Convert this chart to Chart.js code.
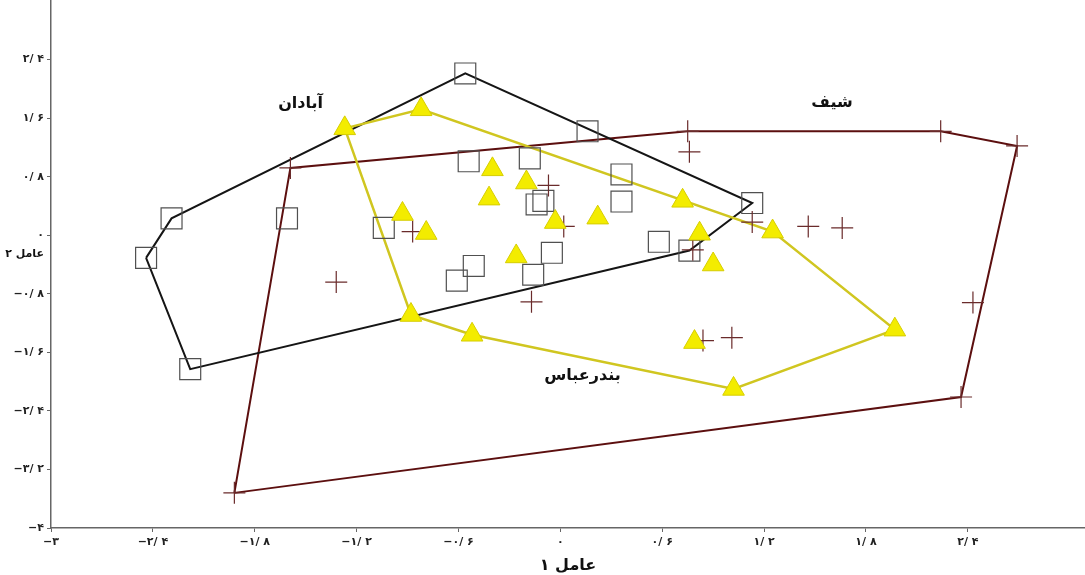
<!DOCTYPE html>
<html>
<head>
<meta charset="utf-8">
<script src="https://cdn.jsdelivr.net/npm/chart.js@4.4.0/dist/chart.umd.min.js"></script>
<style>
  html, body { margin: 0; padding: 0; background: #ffffff; }
  #wrap { width: 1085px; height: 575px; }
</style>
</head>
<body>
<div id="wrap"><canvas id="c" width="1085" height="575"></canvas></div>
<script>
// ---- data ----
// Abadan (open squares)
const abadanX = [-0.56, 0.16, -2.29, -2.44, -2.18, -1.61, -1.04, -0.54, -0.18, 0.36, 0.36, -0.10, -0.14, 1.13, 0.58, 0.76, -0.05, -0.51, -0.61, -0.16];
const abadanY = [ 2.21, 1.42,  0.23, -0.31, -1.83,  0.23,  0.10,  1.01,  1.05, 0.83, 0.46,  0.47,  0.42, 0.44, -0.09, -0.21, -0.24, -0.42, -0.62, -0.54];
// Bandar Abbas (yellow triangles)
const bandarX = [-1.27, -0.82, -0.40, -0.20, -0.42, -0.93, -0.79, -0.03, 0.22, 0.72, 0.82, 0.90, 1.25, -0.26, -0.88, -0.52, 0.79, 1.02, 1.97];
const bandarY = [ 1.46,  1.72,  0.90,  0.72,  0.50,  0.29,  0.03,  0.18, 0.24, 0.47, 0.02, -0.40, 0.05, -0.29, -1.09, -1.36, -1.46, -2.10, -1.29];
// Shif (plus signs)
const shifX = [-1.59, 0.75, 0.76, 2.24, 2.69, -0.07, 0.02, -0.87, 1.13, 1.46, 1.66, 0.78, -1.32, -0.17, 2.43, 0.84, 1.01, 2.36, -1.92];
const shifY = [ 0.92, 1.42, 1.14, 1.42, 1.22,  0.68, 0.12,  0.05, 0.18, 0.12, 0.10, -0.20, -0.64, -0.91, -0.92, -1.44, -1.40, -2.21, -3.52];
// group labels
const groupNames = ['آبادان', 'شیف', 'بندرعباس'];
const groupLabelX = [-1.53, 1.60, 0.13];
const groupLabelY = [1.80, 1.81, -1.92];
// axis ticks
const xTicks = [-3, -2.4, -1.8, -1.2, -0.6, 0, 0.6, 1.2, 1.8, 2.4];
const yTicks = [-4, -3.2, -2.4, -1.6, -0.8, 0, 0.8, 1.6, 2.4];
const xTitle = 'عامل ۱';
const yTitle = 'عامل ۲';

// ---- helpers ----
const faDigits = '۰۱۲۳۴۵۶۷۸۹';
function fa(v) {
  const r = Math.round(v * 10) / 10;
  const neg = r < 0;
  const a = Math.abs(r);
  const i = Math.floor(a + 1e-9);
  const d = Math.round((a - i) * 10);
  let s = String(i).replace(/\d/g, c => faDigits[+c]);
  if (d) s += '/ ' + faDigits[d];
  return (neg ? '−' : '') + s;
}
function toPts(xs, ys) { return xs.map((x, i) => ({ x: x, y: ys[i] })); }
function hull(pts) {
  const p = pts.slice().sort((a, b) => a.x - b.x || a.y - b.y);
  const cross = (o, a, b) => (a.x - o.x) * (b.y - o.y) - (a.y - o.y) * (b.x - o.x);
  const lower = [];
  for (const q of p) {
    while (lower.length >= 2 && cross(lower[lower.length - 2], lower[lower.length - 1], q) <= 0) lower.pop();
    lower.push(q);
  }
  const upper = [];
  for (const q of p.slice().reverse()) {
    while (upper.length >= 2 && cross(upper[upper.length - 2], upper[upper.length - 1], q) <= 0) upper.pop();
    upper.push(q);
  }
  upper.pop(); lower.pop();
  const h = lower.concat(upper);
  h.push(h[0]);
  return h.map(q => ({ x: q.x, y: q.y }));
}

const abadan = toPts(abadanX, abadanY);
const bandar = toPts(bandarX, bandarY);
const shif = toPts(shifX, shifY);

const labelPlugin = {
  id: 'groupLabels',
  afterDatasetsDraw(chart) {
    const { ctx } = chart;
    const xs = chart.scales.x, ys = chart.scales.y;
    ctx.save();
    ctx.fillStyle = '#111';
    ctx.textAlign = 'center';
    ctx.textBaseline = 'middle';
    ctx.font = 'bold 16px "DejaVu Sans"';
    groupNames.forEach((n, i) => {
      ctx.fillText(n, xs.getPixelForValue(groupLabelX[i]), ys.getPixelForValue(groupLabelY[i]));
    });
    ctx.font = 'bold 11px "DejaVu Sans"';
    ctx.textAlign = 'right';
    ctx.fillText(yTitle, xs.left - 7, ys.getPixelForValue(0) + 19);
    ctx.restore();
  }
};

const tickFont = { family: 'DejaVu Sans', weight: 'bold', size: 11 };
const zeroPad = s => { s.paddingTop = 0; s.paddingBottom = 0; s.paddingLeft = 0; s.paddingRight = 0; };

new Chart(document.getElementById('c'), {
  type: 'scatter',
  data: {
    datasets: [
      { label: 'بندرعباس', data: bandar, pointStyle: 'triangle', pointRadius: 12.5, pointHoverRadius: 12.5,
        pointBackgroundColor: '#f3ec00', pointBorderColor: '#d6cd00', pointBorderWidth: 1, order: 1 },
      { label: 'شیف', data: shif, pointStyle: 'cross', pointRadius: 11, pointHoverRadius: 11,
        pointBorderColor: '#6a2b2b', pointBorderWidth: 1.2, order: 2 },
      { label: 'آبادان', data: abadan, pointStyle: 'rect', pointRadius: 14.8, pointHoverRadius: 14.8,
        pointBackgroundColor: 'rgba(0,0,0,0)', pointBorderColor: '#505050', pointBorderWidth: 1.2, order: 3 },
      { label: 'hull-bandar', data: hull(bandar), showLine: true, pointRadius: 0, pointHoverRadius: 0,
        borderColor: '#d0c620', borderWidth: 2.5, tension: 0, order: 4 },
      { label: 'hull-abadan', data: hull(abadan), showLine: true, pointRadius: 0, pointHoverRadius: 0,
        borderColor: '#151515', borderWidth: 2, tension: 0, order: 5 },
      { label: 'hull-shif', data: hull(shif), showLine: true, pointRadius: 0, pointHoverRadius: 0,
        borderColor: '#5c0f0f', borderWidth: 2, tension: 0, order: 6 }
    ]
  },
  options: {
    responsive: false,
    devicePixelRatio: 1,
    animation: false,
    events: [],
    layout: { autoPadding: false, padding: { top: 1, right: 0, left: 0, bottom: 0 } },
    plugins: { legend: { display: false }, tooltip: { enabled: false } },
    scales: {
      x: {
        type: 'linear', min: -3, max: 3.09,
        afterBuildTicks: s => { s.ticks = xTicks.map(v => ({ value: v })); },
        afterFit: s => { s.height = 47; zeroPad(s); },
        grid: { drawOnChartArea: false, drawTicks: true, tickLength: 4, color: '#666' },
        border: { display: true, color: '#666', width: 1.5 },
        ticks: { callback: v => fa(v), font: tickFont, color: '#222', padding: 4, maxRotation: 0, autoSkip: false },
        title: { display: true, text: xTitle, font: { family: 'DejaVu Sans', weight: 'bold', size: 16 }, color: '#111', padding: { top: 0, bottom: 0 } }
      },
      y: {
        type: 'linear', min: -4, max: 3.2,
        afterBuildTicks: s => { s.ticks = yTicks.map(v => ({ value: v })); },
        afterFit: s => { s.width = 51; zeroPad(s); },
        grid: { drawOnChartArea: false, drawTicks: true, tickLength: 4, color: '#666' },
        border: { display: true, color: '#666', width: 1.5 },
        ticks: { callback: v => fa(v), font: tickFont, color: '#222', padding: 3, autoSkip: false }
      }
    }
  },
  plugins: [labelPlugin]
});
</script>
</body>
</html>
